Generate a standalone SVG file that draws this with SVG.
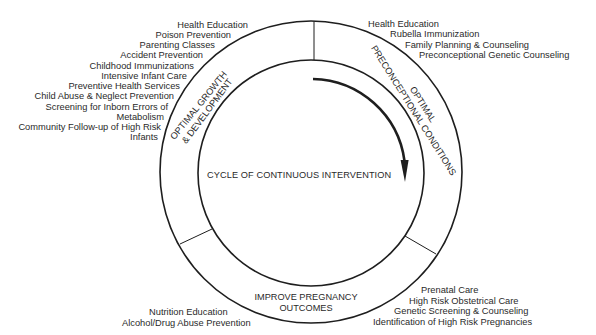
<svg xmlns="http://www.w3.org/2000/svg" width="596" height="335" viewBox="0 0 596 335">
<style>
  .t { font-family: "Liberation Sans", Arial, sans-serif; font-size: 9.3px; fill: #2a2a2a; }
  .e { text-anchor: end; }
  .cap { font-family: "Liberation Sans", Arial, sans-serif; font-size: 9.2px; fill: #2a2a2a; }
  .ring { fill: none; stroke: #1e1e1e; stroke-width: 1.6; }
  .div { stroke: #1e1e1e; stroke-width: 1; }
</style>
<defs>
  <path id="pL1" d="M167.7,148.6 L234.3,66"/>
  <path id="pL2" d="M179.7,153.4 L239.6,72.4"/>
  <path id="pR1" d="M374,32.6 L466.6,179.6"/>
  <path id="pR2" d="M364.7,38.5 L457.3,185.5"/>
</defs>
<rect width="596" height="335" fill="#ffffff"/>

<g id="rings">
  <circle class="ring" cx="311" cy="172" r="151"/>
  <circle class="ring" cx="311" cy="173" r="113"/>
</g>

<g id="connectors">
  <line class="div" x1="314" y1="21.5" x2="314" y2="60"/>
  <line class="div" x1="180" y1="244" x2="212" y2="229"/>
  <line class="div" x1="405" y1="236" x2="436" y2="254"/>
  <path d="M313,79 A94.4,94.4 0 0 1 404.5,161" fill="none" stroke="#1e1e1e" stroke-width="2.6"/>
  <polygon points="400.6,160 408.6,160 405,182" fill="#1e1e1e"/>
</g>

<g id="cycle">
  <text class="cap" x="207" y="177.5" letter-spacing="0.1">CYCLE OF CONTINUOUS INTERVENTION</text>
</g>

<g id="growth">
  <text class="cap"><textPath href="#pL1" startOffset="50%" text-anchor="middle">OPTIMAL GROWTH</textPath></text>
  <text class="cap"><textPath href="#pL2" startOffset="50%" text-anchor="middle">&amp; DEVELOPMENT</textPath></text>
  <text class="t e" x="248" y="27.5">Health Education</text>
  <text class="t e" x="231" y="37.75">Poison Prevention</text>
  <text class="t e" x="215" y="48">Parenting Classes</text>
  <text class="t e" x="203" y="58.25">Accident Prevention</text>
  <text class="t e" x="194" y="68.5">Childhood Immunizations</text>
  <text class="t e" x="187" y="78.75">Intensive Infant Care</text>
  <text class="t e" x="180" y="89">Preventive Health Services</text>
  <text class="t e" x="174" y="99.25">Child Abuse &amp; Neglect Prevention</text>
  <text class="t e" x="168" y="109.5">Screening for Inborn Errors of</text>
  <text class="t e" x="164" y="119.75">Metabolism</text>
  <text class="t e" x="161" y="130">Community Follow-up of High Risk</text>
  <text class="t e" x="158" y="140.25">Infants</text>
</g>

<g id="preconception">
  <text class="cap"><textPath href="#pR1" startOffset="50%" text-anchor="middle">OPTIMAL</textPath></text>
  <text class="cap"><textPath href="#pR2" startOffset="50%" text-anchor="middle">PRECONCEPTIONAL CONDITIONS</textPath></text>
  <text class="t" x="368" y="27">Health Education</text>
  <text class="t" x="390" y="37.25">Rubella Immunization</text>
  <text class="t" x="405" y="47.5">Family Planning &amp; Counseling</text>
  <text class="t" x="419" y="57.75">Preconceptional Genetic Counseling</text>
</g>

<g id="pregnancy">
  <text class="cap" x="306" y="299.5" text-anchor="middle">IMPROVE PREGNANCY</text>
  <text class="cap" x="306" y="311" text-anchor="middle">OUTCOMES</text>
  <text class="t" x="421" y="293">Prenatal Care</text>
  <text class="t" x="409" y="303.5">High Risk Obstetrical Care</text>
  <text class="t" x="394" y="314">Genetic Screening &amp; Counseling</text>
  <text class="t" x="373" y="324.5">Identification of High Risk Pregnancies</text>
  <text class="t" x="149" y="315">Nutrition Education</text>
  <text class="t" x="122" y="325.5">Alcohol/Drug Abuse Prevention</text>
</g>
</svg>
